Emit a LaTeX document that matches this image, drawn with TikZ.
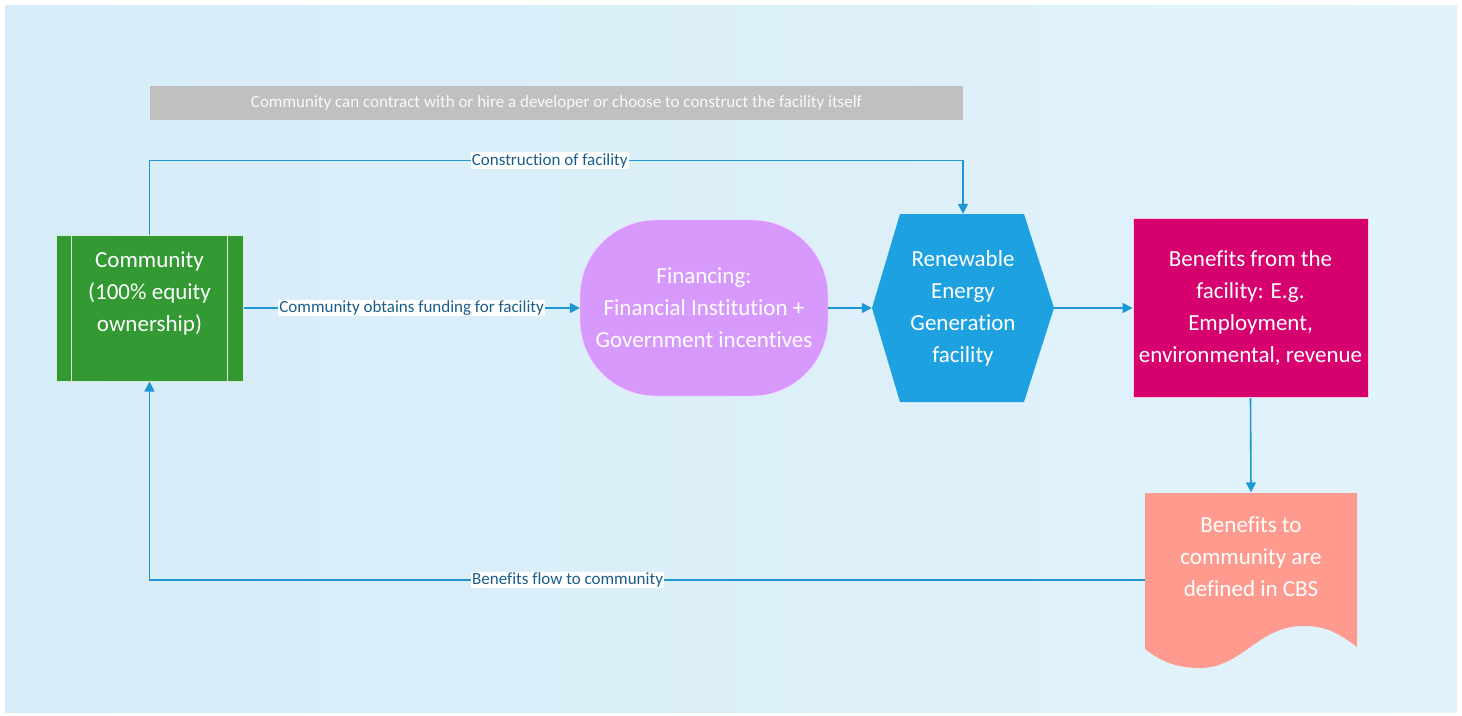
\documentclass[tikz,border=0pt]{standalone}
\usepackage{fontspec}
\setmainfont[Ligatures=NoCommon]{Carlito}
\usetikzlibrary{arrows.meta}

\definecolor{bgleft}{RGB}{214,236,248}
\definecolor{bgright}{RGB}{226,243,251}
\definecolor{notegray}{RGB}{192,192,192}
\definecolor{commgreen}{RGB}{51,153,51}
\definecolor{finpurple}{RGB}{216,153,253}
\definecolor{genblue}{RGB}{30,161,224}
\definecolor{benmagenta}{RGB}{214,0,110}
\definecolor{cbssalmon}{RGB}{255,154,142}
\definecolor{linkblue}{RGB}{30,150,214}
\definecolor{labelblue}{RGB}{26,94,140}

\tikzset{
  boxtext/.style={text=white, align=center, font=\fontsize{23}{32}\selectfont, inner sep=0pt},
  flow/.style={draw=linkblue, line width=1.6pt, -{Triangle[length=10pt,width=10pt]}},
  linklabel/.style={fill=white, text=labelblue, font=\fontsize{17}{20}\selectfont, inner sep=1pt}
}

\begin{document}
\begin{tikzpicture}[x=1pt, y=-1pt]
\useasboundingbox (0,0) rectangle (1462,715);
\shade[left color=bgleft, right color=bgright] (5,5) rectangle (1457,712);

% top note
\node[fill=notegray, minimum width=813pt, minimum height=34pt, text=white!95!gray,
      font=\fontsize{17}{20}\selectfont] (note) at (556.5,103)
  {Community can contract with or hire a developer or choose to construct the facility itself};

\node[boxtext, fill=commgreen, draw=white!80!commgreen, line width=1pt,
      minimum width=187pt, minimum height=146pt] (comm) at (149.5,308)
  {Community\\(100\% equity\\ownership)\\\mbox{}};
\draw[white!80!commgreen, line width=1pt] ([xshift=16pt]comm.north west) -- ([xshift=16pt]comm.south west);
\draw[white!80!commgreen, line width=1pt] ([xshift=-16pt]comm.north east) -- ([xshift=-16pt]comm.south east);

\node[boxtext, fill=finpurple, draw=white!70!finpurple, rounded corners=76pt,
      minimum width=248pt, minimum height=176pt] (fin) at (704,308)
  {Financing:\\Financial Institution +\\Government incentives};

% hexagon
\fill[genblue] (872,308) -- (900,214) -- (1024,214) -- (1054,308) -- (1024,402) -- (900,402) -- cycle;
\node[boxtext, minimum width=182pt, minimum height=188pt] (gen) at (963,308)
  {Renewable\\Energy\\Generation\\facility};

\node[boxtext, fill=benmagenta, draw=white!80!benmagenta, line width=1pt,
      minimum width=235pt, minimum height=179pt] (ben) at (1250.5,308)
  {Benefits from the\\facility: E.g.\\Employment,\\environmental, revenue};

% document shape
\fill[cbssalmon] (1145,493) -- (1357,493) -- (1357,647)
  .. controls (1335,630) and (1322,626) .. (1303,626)
  .. controls (1258,626) and (1242,668) .. (1200,668)
  .. controls (1176,668) and (1160,661) .. (1145,649) -- cycle;
\node[boxtext, minimum width=212pt, minimum height=175pt] (cbs) at (1251,580)
  {Benefits to\\community are\\defined in CBS\\[14pt]\mbox{}};

\draw[flow] (comm.north) -- ++(0,-74) -| (gen.north)
  node[linklabel, pos=0.246] {Construction of facility};
\draw[flow] (comm.east) -- (fin.west)
  node[linklabel, midway] {Community obtains funding for facility};
\draw[flow] (fin.east) -- (gen.west);
\draw[flow] (gen.east) -- (ben.west);
\draw[flow] (ben.south) -- (cbs.north);
\draw[flow] (cbs.west) -| (comm.south)
  node[linklabel, pos=0.29] {Benefits flow to community};
\end{tikzpicture}
\end{document}
